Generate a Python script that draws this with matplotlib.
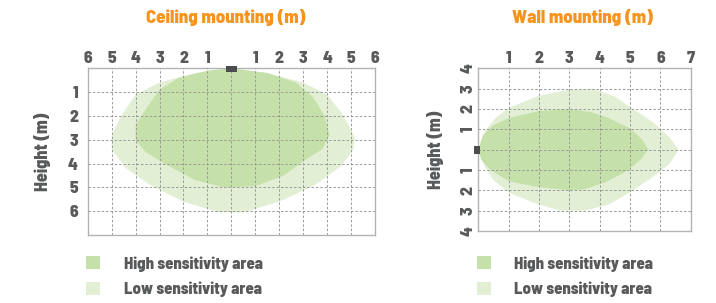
import matplotlib
matplotlib.use("Agg")
import matplotlib.pyplot as plt
from matplotlib.patches import Polygon, Patch, Rectangle

plt.rcParams['font.family'] = ['Barlow Semi Condensed', 'DejaVu Sans']

# ---- data ----
ceil_x_ticks = [-6, -5, -4, -3, -2, -1, 1, 2, 3, 4, 5, 6]
ceil_x_labels = ["6", "5", "4", "3", "2", "1", "1", "2", "3", "4", "5", "6"]
ceil_y_ticks = [1, 2, 3, 4, 5, 6]
ceil_low_x = [0, -1.5, -3.0, -4.0, -4.6, -5.0, -5.0, -4.4, -3.4, -2.0, -0.5, 0.5, 2.0, 3.5, 4.6, 5.1, 5.15, 4.7, 4.0, 3.0, 1.5]
ceil_low_y = [0, 0.2, 0.6, 1.1, 2.0, 2.8, 3.4, 4.2, 4.9, 5.6, 6.05, 6.05, 5.6, 4.9, 4.1, 3.4, 2.9, 2.0, 1.1, 0.6, 0.2]
ceil_high_x = [0, -1.0, -2.2, -3.0, -3.5, -4.0, -4.0, -3.6, -2.8, -1.5, -0.3, 1.0, 2.2, 3.0, 3.8, 4.1, 3.9, 3.4, 2.7, 1.5]
ceil_high_y = [0, 0.1, 0.4, 0.9, 1.6, 2.4, 3.0, 3.5, 4.0, 4.7, 5.0, 4.95, 4.5, 3.9, 3.4, 2.8, 2.0, 1.2, 0.6, 0.2]

wall_x_ticks = [1, 2, 3, 4, 5, 6, 7]
wall_y_ticks = [-4, -3, -2, -1, 1, 2, 3, 4]
wall_y_labels = ["4", "3", "2", "1", "1", "2", "3", "4"]
wall_low_x = [0, 0.25, 0.6, 1.0, 2.0, 3.0, 3.8, 4.5, 5.1, 5.8, 6.3, 6.6, 6.3, 5.7, 5.0, 4.3, 3.5, 2.7, 1.8, 1.0, 0.5, 0.2]
wall_low_y = [0, 1.0, 1.6, 2.05, 2.65, 2.95, 3.0, 2.6, 2.0, 1.3, 0.6, 0, -0.7, -1.4, -2.1, -2.7, -3.0, -3.0, -2.6, -2.1, -1.5, -0.8]
wall_high_x = [0, 0.15, 0.5, 1.0, 2.0, 3.0, 3.7, 4.3, 5.0, 5.4, 5.6, 5.35, 4.9, 4.2, 3.5, 3.0, 2.0, 1.0, 0.4, 0.1]
wall_high_y = [0, 0.7, 1.2, 1.55, 1.9, 2.0, 1.85, 1.55, 1.05, 0.5, 0, -0.5, -1.05, -1.6, -1.95, -2.0, -1.85, -1.55, -1.0, -0.5]

titles = ["Ceiling mounting (m)", "Wall mounting (m)"]
legend_labels = ["High sensitivity area", "Low sensitivity area"]

HIGH = "#c5e0a8"
LOW = "#e2efd5"
GRID = "#9a9a9a"
FRAME = "#b3b3b3"
TXT = "#58595b"
ORANGE = "#f7941d"
SENSOR = "#4d4d4f"
W = 'heavy'
DASH = (0, (2.5, 2.0))

TICK_FS = 12.5
LBL_FS = 13
TITLE_FS = 13.5
LEG_FS = 12

fig = plt.figure(figsize=(7.16, 3.03), dpi=100)
ax1 = fig.add_axes([0.1225, 0.2244, 0.4012, 0.5502])
ax2 = fig.add_axes([0.668, 0.2376, 0.2967, 0.537])

def style(ax):
    for s in ax.spines.values():
        s.set_color(FRAME)
        s.set_linewidth(1.0)
    ax.tick_params(length=0, labelsize=TICK_FS, labelcolor=TXT)
    for lab in ax.get_xticklabels() + ax.get_yticklabels():
        lab.set_fontweight(W)
    ax.set_facecolor('white')

# ---- ceiling ----
ax1.set_xlim(-6, 6)
ax1.set_ylim(7, 0)
for gx in range(-5, 6):
    ax1.axvline(gx, color=GRID, lw=0.7, ls=DASH, zorder=3)
for gy in range(1, 7):
    ax1.axhline(gy, color=GRID, lw=0.7, ls=DASH, zorder=3)
ax1.add_patch(Polygon(list(zip(ceil_low_x, ceil_low_y)), closed=True, fc=LOW, ec='none', zorder=1))
ax1.add_patch(Polygon(list(zip(ceil_high_x, ceil_high_y)), closed=True, fc=HIGH, ec='none', zorder=2))
ax1.add_patch(Rectangle((-0.24, -0.1), 0.48, 0.24, fc=SENSOR, ec='none', zorder=5, clip_on=False))
ax1.xaxis.tick_top()
ax1.set_xticks(ceil_x_ticks)
ax1.set_xticklabels(ceil_x_labels)
ax1.set_yticks(ceil_y_ticks)
ax1.tick_params(axis='x', pad=2)
ax1.tick_params(axis='y', pad=7)
style(ax1)
ax1.set_ylabel("Height (m)", fontsize=LBL_FS, fontweight=W, color=TXT, labelpad=12)
fig.text(226 / 716, 1 - 17 / 303, titles[0], ha='center', va='center', fontsize=TITLE_FS,
         fontweight=W, color=ORANGE)

# ---- wall ----
ax2.set_xlim(0, 7)
ax2.set_ylim(-4, 4)
for gx in range(1, 7):
    ax2.axvline(gx, color=GRID, lw=0.7, ls=DASH, zorder=3)
for gy in range(-3, 4):
    ax2.axhline(gy, color=GRID, lw=0.7, ls=DASH, zorder=3)
ax2.add_patch(Polygon(list(zip(wall_low_x, wall_low_y)), closed=True, fc=LOW, ec='none', zorder=1))
ax2.add_patch(Polygon(list(zip(wall_high_x, wall_high_y)), closed=True, fc=HIGH, ec='none', zorder=2))
ax2.add_patch(Rectangle((-0.13, -0.2), 0.2, 0.4, fc=SENSOR, ec='none', zorder=5, clip_on=False))
ax2.xaxis.tick_top()
ax2.set_xticks(wall_x_ticks)
ax2.set_yticks(wall_y_ticks)
ax2.set_yticklabels(wall_y_labels, rotation=90, va='center')
ax2.tick_params(axis='x', pad=2)
ax2.tick_params(axis='y', pad=2)
style(ax2)
ax2.set_ylabel("Height (m)", fontsize=LBL_FS, fontweight=W, color=TXT, labelpad=12)
fig.text(582 / 716, 1 - 17 / 303, titles[1], ha='center', va='center', fontsize=TITLE_FS,
         fontweight=W, color=ORANGE)

# ---- legends ----
handles = [Patch(fc=HIGH, ec='none'), Patch(fc=LOW, ec='none')]
for x0 in [86 / 716, 477 / 716]:
    leg = fig.legend(handles, legend_labels, loc='upper left',
                     bbox_to_anchor=(x0, 1 - 256 / 303), frameon=False,
                     fontsize=LEG_FS, handlelength=0.85, handleheight=0.85,
                     handletextpad=1.4, labelspacing=0.6, borderpad=0, borderaxespad=0)
    for t in leg.get_texts():
        t.set_color(TXT)
        t.set_fontweight(W)

fig.savefig("out.png", dpi=100)
